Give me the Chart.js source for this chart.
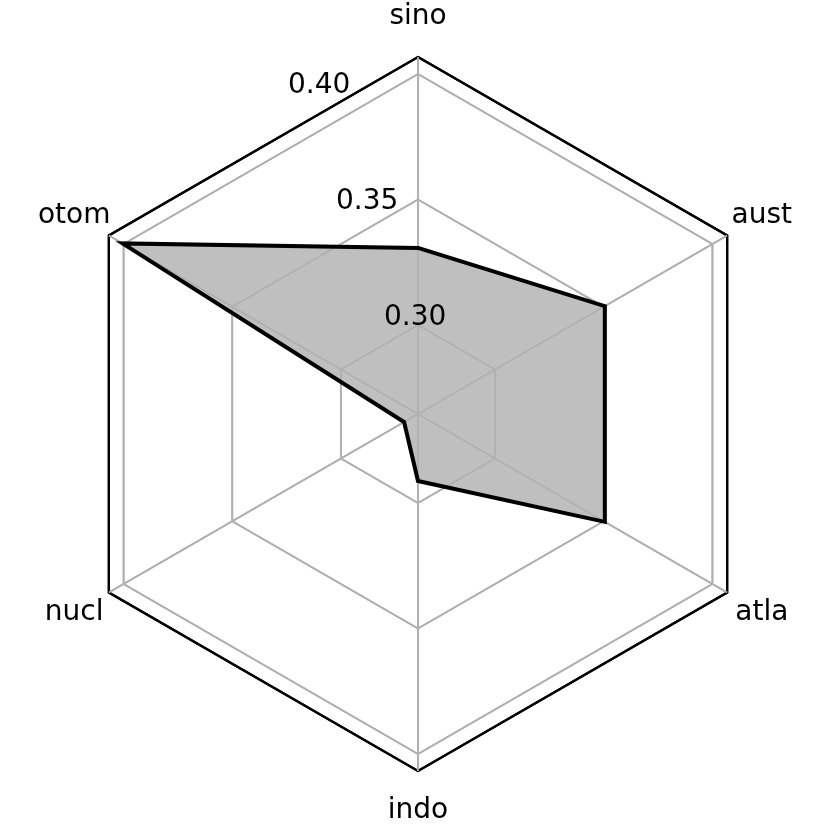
<!DOCTYPE html>
<html>
<head>
<meta charset="utf-8">
<script src="https://cdn.jsdelivr.net/npm/chart.js@4/dist/chart.umd.min.js"></script>
<style>
  html, body { margin: 0; padding: 0; background: #fff; }
  canvas { display: block; }
</style>
</head>
<body>
<canvas id="chart" width="830" height="830"></canvas>
<script>
const categories = ['sino', 'aust', 'atla', 'indo', 'nucl', 'otom'];
const values     = [0.3307, 0.3505, 0.3505, 0.2912, 0.2709, 0.4005];
const rMin       = 0.2645;
const rMax       = 0.4068;
const tickValues = [0.30, 0.35, 0.40];
const tickLabels = ['0.30', '0.35', '0.40'];

const FONT = '28px "DejaVu Sans"';
const allTicks = [rMin, ...tickValues, rMax];

// grid goes over the fill but under the outline, like matplotlib
const labelPlugin = {
  id: 'radarLabels',
  afterDatasetDraw(chart, args) {
    if (args.index === 1) chart.scales.r.drawGrid(chart.chartArea);
  },
  afterDraw(chart) {
    const r = chart.scales.r, ctx = chart.ctx;
    ctx.save();
    ctx.font = FONT;
    ctx.fillStyle = '#000';
    ctx.textAlign = 'center';
    ctx.textBaseline = 'middle';
    categories.forEach((c, i) => {
      const p = r.getPointPosition(i, r.drawingArea + 40);
      ctx.fillText(c, p.x, p.y);
    });
    // radial labels sit at 22.5 deg left of the top axis
    const a = -Math.PI / 2 - Math.PI / 8;
    ctx.textAlign = 'left';
    ctx.textBaseline = 'bottom';
    tickValues.forEach((v, i) => {
      const d = r.getDistanceFromCenterForValue(v);
      ctx.fillText(tickLabels[i], r.xCenter + d * Math.cos(a), r.yCenter + d * Math.sin(a));
    });
    ctx.restore();
  }
};

new Chart(document.getElementById('chart'), {
  type: 'radar',
  data: {
    labels: categories,
    datasets: [
      { data: values, fill: false, borderColor: '#000', borderWidth: 4,
        borderJoinStyle: 'miter', pointRadius: 0, order: 0 },
      { data: values, fill: true, backgroundColor: '#bfbfbf', borderWidth: 0,
        pointRadius: 0, order: 1 }
    ]
  },
  options: {
    responsive: false,
    animation: false,
    devicePixelRatio: 1,
    layout: { padding: { left: 61, right: 55, top: 57, bottom: 59 } },
    plugins: { legend: { display: false }, tooltip: { enabled: false } },
    scales: {
      r: {
        min: rMin,
        max: rMax,
        afterBuildTicks: (scale) => { scale.ticks = allTicks.map(v => ({ value: v })); },
        ticks: { display: false },
        pointLabels: { display: false },
        grid: {
          color: (ctx) => ctx.index === allTicks.length - 1 ? '#000' : '#b0b0b0',
          lineWidth: (ctx) => ctx.index === allTicks.length - 1 ? 2.2 : 1.8
        },
        angleLines: { color: '#b0b0b0', lineWidth: 1.8 }
      }
    }
  },
  plugins: [labelPlugin]
});
</script>
</body>
</html>
